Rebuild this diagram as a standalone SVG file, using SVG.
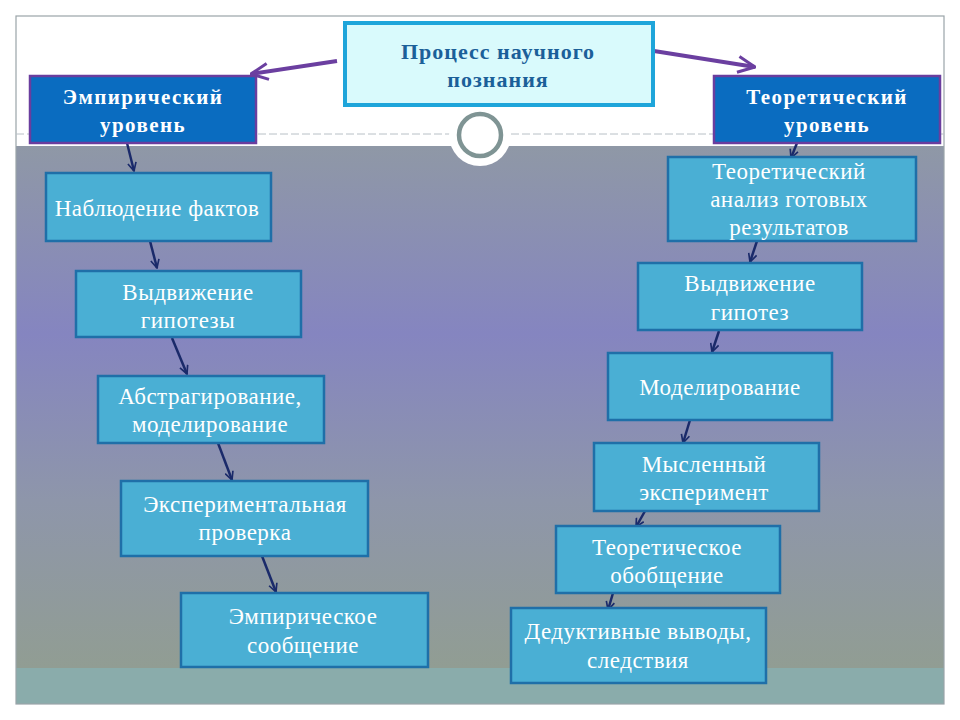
<svg xmlns="http://www.w3.org/2000/svg" width="960" height="720" viewBox="0 0 960 720">
  <defs>
    <linearGradient id="bg" x1="0" y1="0" x2="0" y2="1">
      <stop offset="0" stop-color="#8f98a6"/>
      <stop offset="0.36" stop-color="#8585c0"/>
      <stop offset="0.68" stop-color="#8e96aa"/>
      <stop offset="1" stop-color="#919d93"/>
    </linearGradient>
    <marker id="nv" viewBox="0 0 12 12" refX="11" refY="6" markerWidth="10" markerHeight="10" markerUnits="userSpaceOnUse" orient="auto">
      <path d="M1,1 L11,6 L1,11" fill="none" stroke="#1a2a6a" stroke-width="2"/>
    </marker>
    <marker id="pu" viewBox="0 0 20 20" refX="19" refY="10" markerWidth="20" markerHeight="20" markerUnits="userSpaceOnUse" orient="auto">
      <path d="M2,2 L19,10 L2,18" fill="none" stroke="#6b3fa0" stroke-width="3"/>
    </marker>
  </defs>
  <style>
    .box { fill: #4aafd4; stroke: #1f6fa8; stroke-width: 2.5; }
    .hdr { fill: #0a6cc0; stroke: #6a3d9e; stroke-width: 2.5; }
    .t { font-family: "Liberation Serif", "Times New Roman", serif; font-size: 23px; fill: #ffffff; text-anchor: middle; letter-spacing: 0.5px; }
    .ht { font-family: "Liberation Serif", "Times New Roman", serif; font-size: 21px; font-weight: bold; fill: #ffffff; text-anchor: middle; letter-spacing: 1.4px; }
    .tt { font-family: "Liberation Serif", "Times New Roman", serif; font-size: 22px; font-weight: bold; fill: #1b6099; text-anchor: middle; letter-spacing: 1px; }
    .nav { fill: none; stroke: #1a2a6a; stroke-width: 2.5; marker-end: url(#nv); }
    .pur { fill: none; stroke: #6b3fa0; stroke-width: 4; marker-end: url(#pu); }
  </style>

  <!-- background -->
  <rect x="0" y="0" width="960" height="720" fill="#ffffff"/>
  <rect x="16" y="146" width="928" height="522" fill="url(#bg)"/>
  <rect x="16" y="668" width="928" height="36" fill="#8aacab"/>
  <rect x="16" y="16" width="928" height="688" fill="none" stroke="#9aa4a8" stroke-width="1.2"/>
  <line x1="16" y1="134" x2="944" y2="134" stroke="#b8c0c6" stroke-width="1" stroke-dasharray="8,3"/>
  <circle cx="480" cy="135" r="31" fill="#ffffff"/>
  <circle cx="480" cy="135" r="21" fill="#ffffff" stroke="#7f9494" stroke-width="4.5"/>

  <!-- connectors -->
  <g id="connectors">
    <line class="pur" x1="337" y1="61" x2="251" y2="74"/>
    <line class="pur" x1="654" y1="51" x2="755" y2="67"/>
    <line class="nav" x1="127" y1="143" x2="134" y2="171"/>
    <line class="nav" x1="150" y1="241" x2="157" y2="268"/>
    <line class="nav" x1="172" y1="338" x2="187" y2="374"/>
    <line class="nav" x1="218" y1="443" x2="232" y2="480"/>
    <line class="nav" x1="262" y1="556" x2="276" y2="592"/>
    <line class="nav" x1="797" y1="143" x2="791" y2="158"/>
    <line class="nav" x1="757" y1="241" x2="750" y2="262"/>
    <line class="nav" x1="719" y1="331" x2="712" y2="352"/>
    <line class="nav" x1="690" y1="420" x2="683" y2="443"/>
    <line class="nav" x1="645" y1="511" x2="636" y2="527"/>
    <line class="nav" x1="613" y1="593" x2="608" y2="610"/>
  </g>

  <!-- top node -->
  <g id="process">
    <rect x="345" y="23" width="308" height="82" fill="#d9fafc" stroke="#1ea5da" stroke-width="4"/>
    <text class="tt" x="498" y="59">Процесс научного</text>
    <text class="tt" x="498" y="87">познания</text>
  </g>

  <g id="empirical">
    <rect class="hdr" x="30" y="76" width="226" height="67"/>
    <text class="ht" x="143" y="104">Эмпирический</text>
    <text class="ht" x="143" y="132">уровень</text>
  </g>
  <g id="theoretical">
    <rect class="hdr" x="714" y="76" width="226" height="67"/>
    <text class="ht" x="827" y="104">Теоретический</text>
    <text class="ht" x="827" y="132">уровень</text>
  </g>

  <!-- left column -->
  <g id="e1">
    <rect class="box" x="46" y="173" width="225" height="68"/>
    <text class="t" x="157" y="216">Наблюдение фактов</text>
  </g>
  <g id="e2">
    <rect class="box" x="76" y="271" width="225" height="66"/>
    <text class="t" x="188" y="300">Выдвижение</text>
    <text class="t" x="188" y="328">гипотезы</text>
  </g>
  <g id="e3">
    <rect class="box" x="98" y="376" width="226" height="67"/>
    <text class="t" x="210" y="404">Абстрагирование,</text>
    <text class="t" x="210" y="432">моделирование</text>
  </g>
  <g id="e4">
    <rect class="box" x="121" y="481" width="247" height="75"/>
    <text class="t" x="245" y="512">Экспериментальная</text>
    <text class="t" x="245" y="540">проверка</text>
  </g>
  <g id="e5">
    <rect class="box" x="181" y="593" width="247" height="74"/>
    <text class="t" x="303" y="624">Эмпирическое</text>
    <text class="t" x="303" y="653">сообщение</text>
  </g>

  <!-- right column -->
  <g id="t1">
    <rect class="box" x="668" y="157" width="248" height="84"/>
    <text class="t" x="789" y="179">Теоретический</text>
    <text class="t" x="789" y="207">анализ готовых</text>
    <text class="t" x="789" y="235">результатов</text>
  </g>
  <g id="t2">
    <rect class="box" x="638" y="263" width="224" height="67"/>
    <text class="t" x="750" y="291">Выдвижение</text>
    <text class="t" x="750" y="320">гипотез</text>
  </g>
  <g id="t3">
    <rect class="box" x="608" y="353" width="224" height="67"/>
    <text class="t" x="720" y="395">Моделирование</text>
  </g>
  <g id="t4">
    <rect class="box" x="594" y="443" width="225" height="68"/>
    <text class="t" x="704" y="472">Мысленный</text>
    <text class="t" x="704" y="500">эксперимент</text>
  </g>
  <g id="t5">
    <rect class="box" x="556" y="526" width="224" height="67"/>
    <text class="t" x="667" y="555">Теоретическое</text>
    <text class="t" x="667" y="583">обобщение</text>
  </g>
  <g id="t6">
    <rect class="box" x="511" y="608" width="255" height="75"/>
    <text class="t" x="638" y="639">Дедуктивные выводы,</text>
    <text class="t" x="638" y="668">следствия</text>
  </g>
</svg>
